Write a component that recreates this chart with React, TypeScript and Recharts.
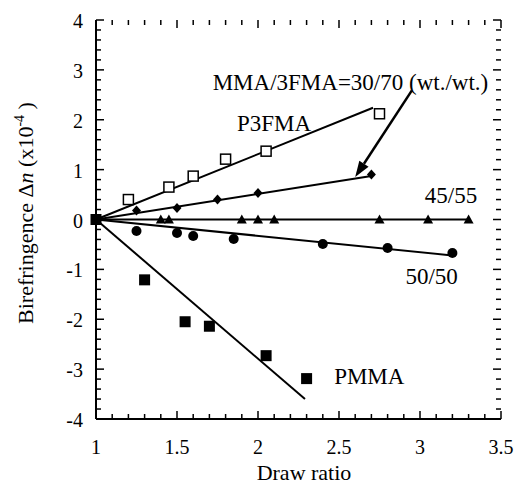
import React from 'react'
import {
  ComposedChart,
  Scatter,
  XAxis,
  YAxis,
  ReferenceLine,
  ReferenceDot,
} from 'recharts'

// Birefringence (x10^-4) against draw ratio for each copolymer
const p3fmaRatio = [1.2, 1.45, 1.6, 1.8, 2.05, 2.75]
const p3fmaDn = [0.4, 0.65, 0.87, 1.21, 1.37, 2.12]

const mma3070Ratio = [1.25, 1.5, 1.75, 2.0, 2.7]
const mma3070Dn = [0.18, 0.23, 0.4, 0.53, 0.9]

const mma4555Ratio = [1.4, 1.45, 1.9, 2.0, 2.1, 2.75, 3.05, 3.3]
const mma4555Dn = [0, 0, 0, 0, 0, 0, 0, 0]

const mma5050Ratio = [1.25, 1.5, 1.6, 1.85, 2.4, 2.8, 3.2]
const mma5050Dn = [-0.23, -0.27, -0.33, -0.39, -0.49, -0.57, -0.67]

const pmmaRatio = [1, 1.3, 1.55, 1.7, 2.05, 2.3]
const pmmaDn = [0, -1.21, -2.05, -2.14, -2.73, -3.19]

// straight fit lines, start and end
const p3fmaFitRatio = [1, 2.71]
const p3fmaFitDn = [0, 2.24]
const mma3070FitRatio = [1, 2.7]
const mma3070FitDn = [0, 0.87]
const mma4555FitRatio = [1, 3.3]
const mma4555FitDn = [0, 0]
const mma5050FitRatio = [1, 3.2]
const mma5050FitDn = [0, -0.72]
const pmmaFitRatio = [1, 2.29]
const pmmaFitDn = [0, -3.6]

// axis ticks
const xMajorTicks = [1, 1.5, 2, 2.5, 3, 3.5]
const yMajorTicks = [-4, -3, -2, -1, 0, 1, 2, 3, 4]

const toPoints = (xs: number[], ys: number[]) => xs.map((x, i) => ({ x, y: ys[i] }))

const steps = (from: number, to: number, step: number) => {
  const out: number[] = []
  const n = Math.round((to - from) / step)
  for (let i = 0; i <= n; i++) out.push(Math.round((from + i * step) * 1000) / 1000)
  return out
}
const xTicks = steps(1, 3.5, 0.1)
const yTicks = steps(-4, 4, 0.2)

// inward tick marks on all four sides of the frame
const bottomMarks = xTicks.map((x) => ({ x, y: -4 }))
const topMarks = xTicks.map((x) => ({ x, y: 4 }))
const leftMarks = yTicks.map((y) => ({ x: 1, y }))
const rightMarks = yTicks.map((y) => ({ x: 3.5, y }))

const serif = '"Liberation Serif", "Times New Roman", serif'

const isOn = (v: number, list: number[]) => list.some((t) => Math.abs(t - v) < 1e-6)

const tickMark = (dx: number, dy: number, useX: boolean) => (props: any) => {
  const { cx, cy, payload } = props
  const major = useX ? isOn(payload.x, xMajorTicks) : isOn(payload.y, yMajorTicks)
  const len = major ? 8 : 5
  return (
    <line x1={cx} y1={cy} x2={cx + dx * len} y2={cy + dy * len} stroke="#000" strokeWidth={1.5} />
  )
}

const BottomLabel = (props: any) => {
  const { x, y, payload } = props
  if (!isOn(payload.value, xMajorTicks)) return <g />
  return (
    <text x={x} y={y + 35} textAnchor="middle" fontSize={20} fontFamily={serif} fill="#000">
      {String(payload.value)}
    </text>
  )
}

const LeftLabel = (props: any) => {
  const { x, y, payload } = props
  if (!isOn(payload.value, yMajorTicks)) return <g />
  return (
    <text x={x - 13} y={y + 8} textAnchor="end" fontSize={20} fontFamily={serif} fill="#000">
      {String(payload.value)}
    </text>
  )
}

// marker shapes
const OpenSquare = ({ cx, cy }: any) => (
  <rect x={cx - 5} y={cy - 5} width={10} height={10} fill="#fff" stroke="#000" strokeWidth={1.5} />
)
const Diamond = ({ cx, cy }: any) => (
  <polygon points={`${cx},${cy - 5} ${cx + 4.5},${cy} ${cx},${cy + 5} ${cx - 4.5},${cy}`} fill="#000" />
)
const Triangle = ({ cx, cy }: any) => (
  <polygon points={`${cx},${cy - 5} ${cx + 5},${cy + 4} ${cx - 5},${cy + 4}`} fill="#000" />
)
const Dot = ({ cx, cy }: any) => <circle cx={cx} cy={cy} r={5} fill="#000" />
const FilledSquare = ({ cx, cy }: any) => (
  <rect x={cx - 5.5} y={cy - 5.5} width={11} height={11} fill="#000" />
)
const NoMarker = () => <g />

const Arrow = (props: any) => {
  const { x1, y1, x2, y2 } = props
  const ang = Math.atan2(y2 - y1, x2 - x1)
  const len = 16
  const half = 5.5
  const bx = x2 - len * Math.cos(ang)
  const by = y2 - len * Math.sin(ang)
  const px = -Math.sin(ang) * half
  const py = Math.cos(ang) * half
  return (
    <g>
      <line x1={x1} y1={y1} x2={bx} y2={by} stroke="#000" strokeWidth={2.5} />
      <polygon points={`${x2},${y2} ${bx + px},${by + py} ${bx - px},${by - py}`} fill="#000" />
    </g>
  )
}

const textAt = (label: string) => (props: any) => (
  <text x={props.cx} y={props.cy} fontSize={23} fontFamily={serif} fill="#000">
    {label}
  </text>
)

const YTitle = () => (
  <text
    x={33}
    y={213}
    transform="rotate(-90, 33, 213)"
    textAnchor="middle"
    fontSize={22}
    fontFamily={serif}
    fill="#000"
  >
    <tspan>Birefringence Δ</tspan>
    <tspan fontStyle="italic">n</tspan>
    <tspan> (x10</tspan>
    <tspan dy={-9} fontSize={14}>-4</tspan>
    <tspan dy={9}> )</tspan>
  </text>
)

const XTitle = () => (
  <text x={304} y={480} textAnchor="middle" fontSize={22} fontFamily={serif} fill="#000">
    Draw ratio
  </text>
)

const fitLine = { stroke: '#000', strokeWidth: 2 }
const frame = { stroke: '#000', strokeWidth: 2 }

export default function App() {
  return (
    <div style={{ position: 'absolute', left: 0, top: 0, background: '#fff' }}>
      <ComposedChart width={519} height={485} margin={{ top: 20, right: 18, bottom: 0, left: 0 }}>
        <XAxis
          xAxisId="b"
          dataKey="x"
          type="number"
          domain={[1, 3.5]}
          ticks={xTicks}
          interval={0}
          height={66}
          tickSize={0}
          tickMargin={0}
          tickLine={false}
          tick={<BottomLabel />}
          axisLine={frame}
          label={<XTitle />}
        />
        <XAxis
          xAxisId="t"
          orientation="top"
          type="number"
          domain={[1, 3.5]}
          height={0}
          tick={false}
          tickLine={false}
          axisLine={frame}
        />
        <YAxis
          yAxisId="l"
          dataKey="y"
          type="number"
          domain={[-4, 4]}
          ticks={yTicks}
          interval={0}
          width={96}
          tickSize={0}
          tickMargin={0}
          tickLine={false}
          tick={<LeftLabel />}
          axisLine={frame}
          label={<YTitle />}
        />
        <YAxis
          yAxisId="r"
          orientation="right"
          type="number"
          domain={[-4, 4]}
          width={0}
          tick={false}
          tickLine={false}
          axisLine={frame}
        />

        {/* tick marks */}
        <Scatter xAxisId="b" yAxisId="l" data={bottomMarks} shape={tickMark(0, -1, true)} isAnimationActive={false} />
        <Scatter xAxisId="b" yAxisId="l" data={topMarks} shape={tickMark(0, 1, true)} isAnimationActive={false} />
        <Scatter xAxisId="b" yAxisId="l" data={leftMarks} shape={tickMark(1, 0, false)} isAnimationActive={false} />
        <Scatter xAxisId="b" yAxisId="l" data={rightMarks} shape={tickMark(-1, 0, false)} isAnimationActive={false} />

        {/* fit lines */}
        <Scatter xAxisId="b" yAxisId="l" data={toPoints(p3fmaFitRatio, p3fmaFitDn)} line={fitLine} shape={NoMarker} isAnimationActive={false} />
        <Scatter xAxisId="b" yAxisId="l" data={toPoints(mma3070FitRatio, mma3070FitDn)} line={fitLine} shape={NoMarker} isAnimationActive={false} />
        <Scatter xAxisId="b" yAxisId="l" data={toPoints(mma4555FitRatio, mma4555FitDn)} line={fitLine} shape={NoMarker} isAnimationActive={false} />
        <Scatter xAxisId="b" yAxisId="l" data={toPoints(mma5050FitRatio, mma5050FitDn)} line={fitLine} shape={NoMarker} isAnimationActive={false} />
        <Scatter xAxisId="b" yAxisId="l" data={toPoints(pmmaFitRatio, pmmaFitDn)} line={fitLine} shape={NoMarker} isAnimationActive={false} />

        {/* measured points */}
        <Scatter xAxisId="b" yAxisId="l" data={toPoints(p3fmaRatio, p3fmaDn)} shape={OpenSquare} isAnimationActive={false} />
        <Scatter xAxisId="b" yAxisId="l" data={toPoints(mma3070Ratio, mma3070Dn)} shape={Diamond} isAnimationActive={false} />
        <Scatter xAxisId="b" yAxisId="l" data={toPoints(mma4555Ratio, mma4555Dn)} shape={Triangle} isAnimationActive={false} />
        <Scatter xAxisId="b" yAxisId="l" data={toPoints(mma5050Ratio, mma5050Dn)} shape={Dot} isAnimationActive={false} />
        <Scatter xAxisId="b" yAxisId="l" data={toPoints(pmmaRatio, pmmaDn)} shape={FilledSquare} isAnimationActive={false} />

        {/* pointer from the 30/70 caption to its line */}
        <ReferenceLine
          xAxisId="b"
          yAxisId="l"
          segment={[{ x: 2.95, y: 2.59 }, { x: 2.6, y: 0.85 }]}
          shape={Arrow}
        />

        <ReferenceDot xAxisId="b" yAxisId="l" x={1.72} y={2.6} shape={textAt('MMA/3FMA=30/70 (wt./wt.)')} />
        <ReferenceDot xAxisId="b" yAxisId="l" x={1.87} y={1.77} shape={textAt('P3FMA')} />
        <ReferenceDot xAxisId="b" yAxisId="l" x={3.03} y={0.33} shape={textAt('45/55')} />
        <ReferenceDot xAxisId="b" yAxisId="l" x={2.91} y={-1.29} shape={textAt('50/50')} />
        <ReferenceDot xAxisId="b" yAxisId="l" x={2.47} y={-3.3} shape={textAt('PMMA')} />
      </ComposedChart>
    </div>
  )
}
